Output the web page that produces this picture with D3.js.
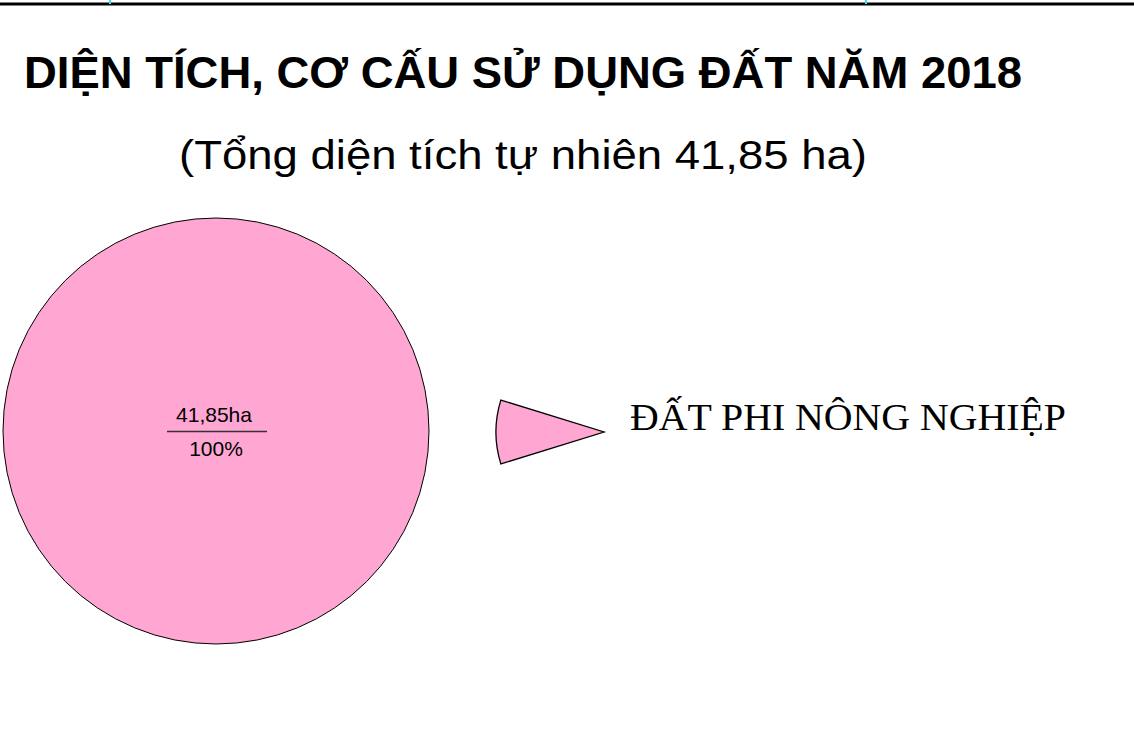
<!DOCTYPE html>
<html>
<head>
<meta charset="utf-8">
<script src="https://cdn.jsdelivr.net/npm/d3@7"></script>
<style>
  html, body { margin: 0; padding: 0; background: #ffffff; }
  svg { display: block; }
</style>
</head>
<body>
<script>
// ---- data ----
const categories = ["ĐẤT PHI NÔNG NGHIỆP"];
const areaValues = [41.85];
const percentLabels = ["100%"];
const areaLabels = ["41,85ha"];
const sliceColors = ["#ffa6d3"];
const titleText = "DIỆN TÍCH, CƠ CẤU SỬ DỤNG ĐẤT NĂM 2018";
const subtitleText = "(Tổng diện tích tự nhiên 41,85 ha)";

const W = 1134, H = 730;
const svg = d3.select("body").append("svg").attr("width", W).attr("height", H);

// top border line with cyan marks
svg.append("rect").attr("x", 0).attr("y", 2.5).attr("width", W).attr("height", 3).attr("fill", "#000");
[110, 866].forEach(x => {
  svg.append("rect").attr("x", x - 1).attr("y", 0).attr("width", 2).attr("height", 4).attr("fill", "#3ee0e6");
});

// title
svg.append("text")
  .attr("x", 24).attr("y", 88)
  .attr("font-family", "Liberation Sans, Arial, sans-serif")
  .attr("font-weight", "bold")
  .attr("font-size", 45)
  .attr("textLength", 998).attr("lengthAdjust", "spacingAndGlyphs")
  .attr("fill", "#000")
  .text(titleText);

svg.append("text")
  .attr("x", 179).attr("y", 169)
  .attr("font-family", "Liberation Sans, Arial, sans-serif")
  .attr("font-size", 40)
  .attr("textLength", 688).attr("lengthAdjust", "spacingAndGlyphs")
  .attr("fill", "#000")
  .text(subtitleText);

// pie
const pie = d3.pie().sort(null).value(d => d.value);
const data = categories.map((c, i) => ({ name: c, value: areaValues[i], color: sliceColors[i], pct: percentLabels[i], area: areaLabels[i] }));
const arcs = pie(data);
const R = 213;
const arc = d3.arc().innerRadius(0).outerRadius(R);
const g = svg.append("g").attr("transform", "translate(216,431)");
g.selectAll("path.slice").data(arcs).enter().append("path")
  .attr("class", "slice")
  .attr("d", arc)
  .attr("fill", d => d.data.color)
  .attr("stroke", "#000").attr("stroke-width", 1);

// label (fraction style)
const lab = g.selectAll("g.lab").data(arcs).enter().append("g").attr("class", "lab")
  .attr("transform", d => arcs.length === 1 ? "translate(0,0)" : `translate(${arc.centroid(d)})`);
lab.append("text")
  .attr("x", -2).attr("y", -9)
  .attr("text-anchor", "middle")
  .attr("font-family", "Liberation Sans, Arial, sans-serif")
  .attr("font-size", 21)
  .attr("fill", "#000")
  .text(d => d.data.area);
lab.append("line")
  .attr("x1", -49).attr("x2", 51).attr("y1", 0.5).attr("y2", 0.5)
  .attr("stroke", "#333").attr("stroke-width", 1.3);
lab.append("text")
  .attr("x", 0).attr("y", 25)
  .attr("text-anchor", "middle")
  .attr("font-family", "Liberation Sans, Arial, sans-serif")
  .attr("font-size", 21)
  .attr("fill", "#000")
  .text(d => d.data.pct);

// legend
const legArc = d3.arc().innerRadius(0).outerRadius(108)
  .startAngle(3 * Math.PI / 2 - 0.3).endAngle(3 * Math.PI / 2 + 0.3);
const leg = svg.append("g").selectAll("g").data(data).enter().append("g")
  .attr("transform", (d, i) => `translate(0,${i * 80})`);
leg.append("path")
  .attr("transform", "translate(604,432)")
  .attr("d", legArc())
  .attr("fill", d => d.color)
  .attr("stroke", "#000").attr("stroke-width", 1.3);
leg.append("text")
  .attr("x", 630).attr("y", 430)
  .attr("font-family", "Liberation Serif, Times New Roman, serif")
  .attr("font-size", 38)
  .attr("textLength", 436).attr("lengthAdjust", "spacingAndGlyphs")
  .attr("fill", "#000")
  .text(d => d.name);
</script>
</body>
</html>
